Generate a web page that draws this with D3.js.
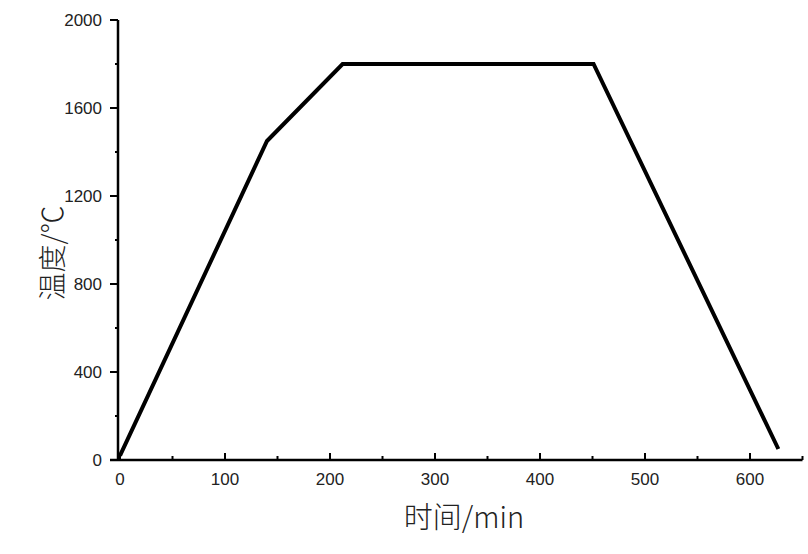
<!DOCTYPE html>
<html><head><meta charset="utf-8">
<script src="https://cdn.jsdelivr.net/npm/d3@7"></script>
<style>body{margin:0;background:#fff}</style>
</head><body>
<svg id="c" width="808" height="554"></svg>
<script>
const timeMin = [0, 140, 212, 451, 627];
const tempC = [20, 1450, 1800, 1800, 50];
const xTicks = [0, 100, 200, 300, 400, 500, 600];
const xMinor = [50, 150, 250, 350, 450, 550, 650];
const yTicks = [0, 400, 800, 1200, 1600, 2000];
const yMinor = [200, 600, 1000, 1400, 1800];
const xTitle = "时间/min";
const yTitle = "温度/℃";

const svg = d3.select("#c");
const x = d3.scaleLinear().domain([0, 600]).range([120, 750]);
const y = d3.scaleLinear().domain([0, 2000]).range([460, 20]);
const font = "'Liberation Sans', Arial, sans-serif";

// x axis
const gx = svg.append("g").attr("transform", "translate(0,460)");
gx.append("line").attr("x1", 110).attr("x2", x(650)).attr("stroke", "#000").attr("stroke-width", 2.5);
gx.selectAll(".mj").data(xTicks).enter().append("line")
  .attr("x1", d => x(d)).attr("x2", d => x(d)).attr("y1", 0).attr("y2", -7)
  .attr("stroke", "#000").attr("stroke-width", 2);
gx.selectAll(".mn").data(xMinor).enter().append("line")
  .attr("x1", d => x(d)).attr("x2", d => x(d)).attr("y1", 0).attr("y2", -4)
  .attr("stroke", "#000").attr("stroke-width", 2);
gx.selectAll("text").data(xTicks).enter().append("text")
  .attr("x", d => x(d)).attr("y", 25).attr("text-anchor", "middle")
  .attr("font-family", font).attr("font-size", 17).attr("fill", "#222").text(d => d);

// y axis
const gy = svg.append("g").attr("transform", "translate(118,0)");
gy.append("line").attr("y1", y(2000)).attr("y2", 461).attr("stroke", "#000").attr("stroke-width", 2.5);
gy.selectAll(".mj").data(yTicks).enter().append("line")
  .attr("y1", d => y(d)).attr("y2", d => y(d)).attr("x1", 0).attr("x2", -8)
  .attr("stroke", "#000").attr("stroke-width", 2);
gy.selectAll(".mn").data(yMinor).enter().append("line")
  .attr("y1", d => y(d)).attr("y2", d => y(d)).attr("x1", 0).attr("x2", -3)
  .attr("stroke", "#000").attr("stroke-width", 2);
gy.selectAll("text").data(yTicks).enter().append("text")
  .attr("x", -16).attr("y", d => y(d)).attr("dy", "0.35em").attr("text-anchor", "end")
  .attr("font-family", font).attr("font-size", 17).attr("fill", "#222").text(d => d);

// line
svg.append("path")
  .datum(timeMin.map((t, i) => [t, tempC[i]]))
  .attr("d", d3.line().x(d => x(d[0])).y(d => y(d[1])))
  .attr("fill", "none").attr("stroke", "#000").attr("stroke-width", 4)
  .attr("stroke-linejoin", "miter");

// titles
svg.append("text").attr("x", 464).attr("y", 528).attr("text-anchor", "middle")
  .attr("font-family", "'Noto Sans CJK SC', sans-serif").attr("font-weight", 300)
  .attr("font-size", 29).attr("fill", "#222").text(xTitle);
svg.append("text").attr("transform", "translate(63,253) rotate(-90)").attr("text-anchor", "middle")
  .attr("font-family", "'Noto Sans CJK SC', sans-serif").attr("font-weight", 300)
  .attr("font-size", 28).attr("fill", "#222").text(yTitle);
</script>
</body></html>
